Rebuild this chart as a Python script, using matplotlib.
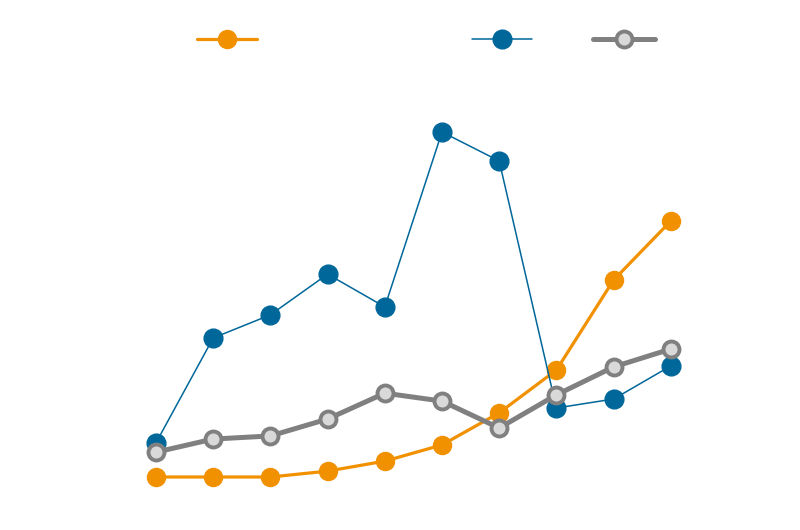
import numpy as np
import matplotlib.pyplot as plt
from matplotlib.lines import Line2D

# data (arbitrary units, orange start = 0, blue peak = 100)
x = np.arange(10)
orange = [0, 0, 0, 1.7, 4.6, 9.3, 18.6, 31.0, 57.1, 74.2]
blue = [9.9, 40.3, 47.0, 58.8, 49.3, 100, 91.6, 20.0, 22.6, 32.2]
gray = [7.2, 11.0, 11.9, 16.8, 24.3, 22.0, 14.2, 23.8, 31.9, 37.1]

c_orange = "#f29100"
c_blue = "#00679a"
c_gray = "#808080"
c_face = "#d9d9d9"

fig = plt.figure(figsize=(8, 5.3), dpi=100)
ax = fig.add_axes([0, 0, 1, 1])
ax.axis("off")

ax.plot(x, orange, color=c_orange, lw=2.3, marker="o", ms=13, mec=c_orange, zorder=2)
ax.plot(x, blue, color=c_blue, lw=1.1, marker="o", ms=13.5, mec=c_blue, zorder=3)
ax.plot(x, gray, color=c_gray, lw=3.6, marker="o", ms=11.5, mfc=c_face, mec=c_gray,
        mew=2.8, zorder=4)

ax.set_xlim(-156 / 57.2, (800 - 156) / 57.2)
ax.set_ylim((477 - 530) / 3.45, 477 / 3.45)

# legend (no text), drawn by hand in pixel positions
ly = 1 - 39 / 530
for x0, x1, xm, kw in [
    (197, 257, 227, dict(color=c_orange, lw=2.3, ms=13, mec=c_orange)),
    (472, 532, 502, dict(color=c_blue, lw=1.1, ms=13.5, mec=c_blue)),
    (593, 655, 624, dict(color=c_gray, lw=3.6, ms=11.5, mfc=c_face, mec=c_gray, mew=2.8)),
]:
    fig.add_artist(Line2D([x0 / 800, x1 / 800], [ly, ly], color=kw["color"],
                          lw=kw["lw"], solid_capstyle="round"))
    fig.add_artist(Line2D([xm / 800], [ly], ls="none", marker="o",
                          **{k: v for k, v in kw.items() if k != "lw"}))

fig.savefig("out.png", dpi=100)
